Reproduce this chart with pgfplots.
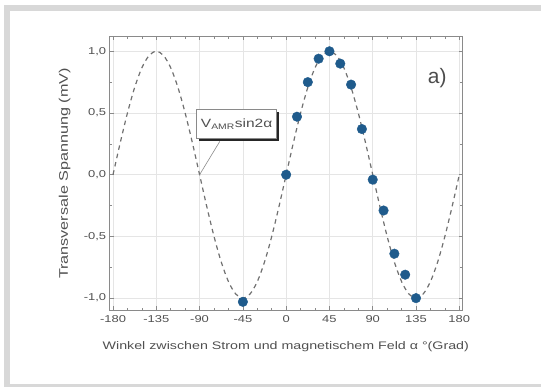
\documentclass[border=0pt]{standalone}
\usepackage{fontspec}
\setmainfont{Liberation Sans}[FakeStretch=1.3]
\newfontfamily\plainfont{Liberation Sans}
\usepackage{pgfplots}
\pgfplotsset{compat=1.18}
\usetikzlibrary{shadows}
\definecolor{dotblue}{HTML}{1F5B8C}
\definecolor{framegray}{HTML}{D8D8D8}
\definecolor{txtgray}{HTML}{505050}
\definecolor{axgray}{HTML}{8A8A8A}
\definecolor{curvegray}{HTML}{707070}
\begin{document}
\begin{tikzpicture}[x=1bp,y=1bp]
\useasboundingbox (0,0) rectangle (541,387);
\fill[framegray] (4,376) rectangle (541,382);
\fill[framegray] (4,0) rectangle (10,382);
\fill[framegray] (4,0) rectangle (541,3);
\begin{axis}[
  at={(114,62)}, anchor=south west,
  scale only axis, width=353bp, height=274bp,
  xmin=-183.5, xmax=183.5, ymin=-1.1, ymax=1.12,
  xtick={-180,-135,-90,-45,0,45,90,135,180},
  ytick={-1,-0.5,0,0.5,1},
  minor x tick num=2, minor y tick num=1,
  grid=major,
  major grid style={draw=black!10, line width=0.5pt},
  axis line style={axgray, line width=0.7pt},
  tick style={axgray, line width=0.6pt},
  major tick length=4bp, minor tick length=2.5bp,
  tick align=inside,
  ticklabel style={font=\fontsize{10}{11}\selectfont, text=txtgray},
  /pgf/number format/assume math mode=true,
  yticklabel style={/pgf/number format/.cd, fixed, fixed zerofill, precision=1, use comma},
  xticklabel style={yshift=-2bp, /pgf/number format/.cd, fixed, precision=0},
  xlabel={Winkel zwischen Strom und magnetischem Feld α °(Grad)},
  ylabel={Transversale Spannung (mV)},
  xlabel style={font=\fontsize{11}{12}\selectfont, text=txtgray, at={(axis description cs:0.499,-0.131)}, anchor=center},
  ylabel style={font=\fontsize{12.5}{13}\selectfont, text=txtgray, at={(axis description cs:-0.1275,0.5)}, anchor=center},
]
\addplot[curvegray, line width=1.2bp, dash pattern=on 4.5bp off 4bp, smooth] coordinates {
(-180,0) (-172.5,0.2588) (-165,0.5) (-157.5,0.7071) (-150,0.866) (-142.5,0.9659)
(-135,1) (-127.5,0.9659) (-120,0.866) (-112.5,0.7071) (-105,0.5) (-97.5,0.2588)
(-90,0) (-82.5,-0.2588) (-75,-0.5) (-67.5,-0.7071) (-60,-0.866) (-52.5,-0.9659)
(-45,-1) (-37.5,-0.9659) (-30,-0.866) (-22.5,-0.7071) (-15,-0.5) (-7.5,-0.2588)
(0,0) (7.5,0.2588) (15,0.5) (22.5,0.7071) (30,0.866) (37.5,0.9659)
(45,1) (52.5,0.9659) (60,0.866) (67.5,0.7071) (75,0.5) (82.5,0.2588)
(90,0) (97.5,-0.2588) (105,-0.5) (112.5,-0.7071) (120,-0.866) (127.5,-0.9659)
(135,-1) (142.5,-0.9659) (150,-0.866) (157.5,-0.7071) (165,-0.5) (172.5,-0.2588)
(180,0)
};
\addplot[only marks, mark=*, mark size=4.8bp, mark options={draw=dotblue, fill=dotblue}] coordinates {
(-45,-1.03) (0,0.0) (11.25,0.47) (22.5,0.75) (33.75,0.94) (45,1.0) (56.25,0.90)
(67.5,0.73) (78.75,0.37) (90,-0.04) (101.25,-0.29) (112.5,-0.64) (123.75,-0.81) (135,-1.0)
};
\draw[axgray, line width=0.6pt] (axis cs:-69,0.27) -- (axis cs:-90,0);
\node[draw=axgray, fill=white, line width=0.7pt,
      drop shadow={shadow xshift=2.5bp, shadow yshift=-2.5bp, fill=black!85, opacity=1},
      inner sep=3bp, minimum width=80bp, minimum height=29bp,
      font=\fontsize{12}{13}\selectfont, text=txtgray]
      at (axis cs:-51.5,0.41) {V\textsubscript{AMR}sin2α};
\node[font=\plainfont\fontsize{21}{23}\selectfont, text=black!70] at (axis cs:157,0.78) {a)};
\end{axis}
\end{tikzpicture}
\end{document}
